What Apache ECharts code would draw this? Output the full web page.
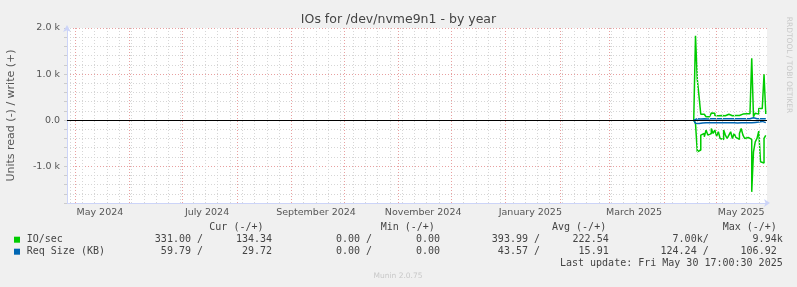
<!DOCTYPE html>
<html><head><meta charset="utf-8">
<script src="https://cdn.jsdelivr.net/npm/echarts@6/dist/echarts.min.js"></script>
<style>html,body{margin:0;padding:0;background:#f0f0f0;}#c{width:797px;height:287px;}</style>
</head><body><div id="c"></div>
<script>
// ---- data ----
const titleText = 'IOs for /dev/nvme9n1 - by year';
const yAxisName = 'Units read (-) / write (+)';
const rangeStart = '2024-04-26T07:00:00';
const rangeEnd = '2025-05-29T16:36:00';
const days = ['2025-04-18','2025-04-19','2025-04-20','2025-04-21','2025-04-22','2025-04-23','2025-04-24','2025-04-25','2025-04-26','2025-04-27','2025-04-28','2025-04-29','2025-04-30',
  '2025-05-01','2025-05-02','2025-05-03','2025-05-04','2025-05-05','2025-05-06','2025-05-07','2025-05-08','2025-05-09','2025-05-10',
  '2025-05-11','2025-05-12','2025-05-13','2025-05-14','2025-05-15','2025-05-16','2025-05-17','2025-05-18','2025-05-19','2025-05-20',
  '2025-05-21','2025-05-22','2025-05-23','2025-05-24','2025-05-25','2025-05-26','2025-05-27','2025-05-28','2025-05-29'];
const ioWrite = [0,1830,890,520,126,126,120,73,73,60,152,148,100,95,98,100,100,95,100,128,100,96,100,102,130,100,110,130,105,140,110,140,105,1340,72,150,130,250,254,250,993,134];
const ioRead  = [0,72,688,650,326,290,362,217,326,290,181,290,217,348,254,399,420,217,326,399,326,254,399,290,377,420,290,181,326,399,377,362,420,1558,688,471,398,239,906,930,398,331];
const reqWrite = [0,28,30,25,27,30,28,26,29,31,27,30,28,29,30,27,28,30,29,31,28,27,29,30,28,29,31,30,28,27,29,30,28,50,45,30,28,29,31,30,28,30];
const reqRead  = [0,70,75,68,62,60,58,57,60,61,59,58,60,57,59,60,58,61,59,57,60,58,59,60,61,58,57,59,60,58,59,61,60,55,50,45,40,30,28,30,55,60];
const monthStarts = ['2024-05-01','2024-06-01','2024-07-01','2024-08-01','2024-09-01','2024-10-01','2024-11-01','2024-12-01','2025-01-01','2025-02-01','2025-03-01','2025-04-01','2025-05-01'];
const firstWeekLine = '2024-04-28';
const xLabelDates = ['2024-05-15','2024-07-15','2024-09-15','2024-11-15','2025-01-15','2025-03-15','2025-05-15'];
const xLabels = ['May 2024','July 2024','September 2024','November 2024','January 2025','March 2025','May 2025'];
const yTickValues = [-1000,0,1000,2000];
const yTickLabels = ['-1.0 k','0.0','1.0 k','2.0 k'];
const legendNames = ['IO/sec','Req Size (KB)'];
const colHeaders = ['Cur (-/+)','Min (-/+)','Avg (-/+)','Max (-/+)'];
const ioStats  = ['331.00 /','134.34','0.00 /','0.00','393.99 /','222.54','7.00k/','9.94k'];
const reqStats = ['59.79 /','29.72','0.00 /','0.00','43.57 /','15.91','124.24 /','106.92'];
const lastUpdate = 'Last update: Fri May 30 17:00:30 2025';
const footer = 'Munin 2.0.75';
const sideText = 'RRDTOOL / TOBI OETIKER';

// ---- helpers ----
function t(s){ return new Date(s.length===10 ? s+'T00:00:00' : s).getTime(); }
const GREEN='#00cc00', BLUE='#0066b3';
const axisColor='#ccd4f8', minorGrid='#d6d6d6', majorGrid='#e8a0a0';
const SANS='"DejaVu Sans", sans-serif', MONO='"DejaVu Sans Mono", monospace';

const endTs = t(rangeEnd);
const weekLines = [];
{ const d = new Date(firstWeekLine+'T00:00:00'); while (d.getTime() < endTs) { weekLines.push(d.getTime()); d.setDate(d.getDate()+7); } }

const gridMarks = [];
weekLines.forEach(ts => gridMarks.push({xAxis: ts, lineStyle:{color:minorGrid, type:[1,2], width:1}}));
monthStarts.forEach(s => gridMarks.push({xAxis: t(s), lineStyle:{color:majorGrid, type:[1,2], width:1}}));
gridMarks.push({yAxis: 0, lineStyle:{color:'#000', type:'solid', width:1}});

const labelTs = xLabelDates.map(t);

function lineSeries(name, vals, sign, color){
  return {name, type:'line', step:'end', symbol:'none', z:3, animation:false,
    lineStyle:{color, width:1.5}, itemStyle:{color},
    data: days.map((d,i)=>[t(d), sign*vals[i]])};
}

// legend table graphics
const g = [];
function txt(x,y,text,opts){
  g.push({type:'text', x, y, silent:true,
    style:Object.assign({text, fill:'#444', font:'10px '+MONO, align:'left', verticalAlign:'middle'}, opts||{})});
}
g.push({type:'text', x:398.5, y:19.3, silent:true, style:{text:titleText, fill:'#444', font:'12.5px '+SANS, align:'center', verticalAlign:'middle'}});
const headerX = [209.3, 380.7, 552, 722.7];
colHeaders.forEach((h,i)=>txt(headerX[i], 227.3, h));
const rowY = [239.7, 251.7];
const colEnds1 = [203, 272, 372, 440, 540, 608.7, 708.7, 782.7];
const colEnds2 = [203, 272, 372, 440, 540, 608.7, 708.7, 776.7];
[ioStats, reqStats].forEach((row, r)=>{
  g.push({type:'rect', silent:true, shape:{x:14, y:rowY[r]-3, width:6, height:6}, style:{fill: r===0?GREEN:BLUE}});
  txt(26.7, rowY[r], legendNames[r]);
  row.forEach((v,i)=>txt((r===0?colEnds1:colEnds2)[i], rowY[r], v, {align:'right'}));
});
txt(782.7, 263.3, lastUpdate, {align:'right'});
g.push({type:'text', x:398, y:276, silent:true, style:{text:footer, fill:'#c8c8c8', font:'7.5px '+SANS, align:'center', verticalAlign:'middle'}});
g.push({type:'text', x:789, y:65, rotation:-Math.PI/2, silent:true, style:{text:sideText, fill:'#c8c8c8', font:'7.5px '+SANS, align:'center', verticalAlign:'middle'}});

const option = {
  animation:false,
  backgroundColor:'#f0f0f0',
  grid:{left:67, right:30, top:28, bottom:84, show:true, backgroundColor:'#ffffff', borderWidth:0,
    containLabel:false, outerBoundsMode:'none'},
  xAxis:{type:'value', min:t(rangeStart), max:endTs, scale:true,
    axisLine:{show:true, onZero:false, lineStyle:{color:axisColor, width:1}, symbol:['none','arrow'], symbolSize:[6,6], symbolOffset:[0,3]},
    axisTick:{show:false},
    splitLine:{show:false},
    axisLabel:{customValues:labelTs, formatter:(v)=>{const k=labelTs.indexOf(v); return k>=0?xLabels[k]:'';},
      color:'#555', fontSize:9.5, fontFamily:SANS, margin:5, hideOverlap:false}
  },
  yAxis:{type:'value', min:-1800, max:2000, interval:200,
    name:yAxisName, nameLocation:'middle', nameRotate:90, nameGap:50,
    nameTextStyle:{color:'#555', fontSize:11, fontFamily:SANS},
    axisLine:{show:true, onZero:false, lineStyle:{color:axisColor, width:1}, symbol:['none','arrow'], symbolSize:[6,7], symbolOffset:[0,3]},
    axisTick:{show:true, length:3, lineStyle:{color:'#cccccc'}},
    axisLabel:{formatter:(v)=>{const k=yTickValues.indexOf(Math.round(v)); return k>=0?yTickLabels[k]:'';},
      color:'#555', fontSize:9.5, fontFamily:SANS, margin:7},
    splitLine:{show:true, lineStyle:{color:[minorGrid,minorGrid,minorGrid,minorGrid,majorGrid], type:[1,2], width:1}}
  },
  series:[
    {type:'line', data:[], z:1, silent:true,
      markLine:{silent:true, symbol:['none','none'], label:{show:false}, animation:false, data:gridMarks}},
    lineSeries('IO/sec write', ioWrite, 1, GREEN),
    lineSeries('IO/sec read', ioRead, -1, GREEN),
    lineSeries('Req write', reqWrite, 1, BLUE),
    lineSeries('Req read', reqRead, -1, BLUE)
  ],
  graphic:g
};
const chart = echarts.init(document.getElementById('c'), null, {renderer:'canvas'});
chart.setOption(option);
</script></body></html>
